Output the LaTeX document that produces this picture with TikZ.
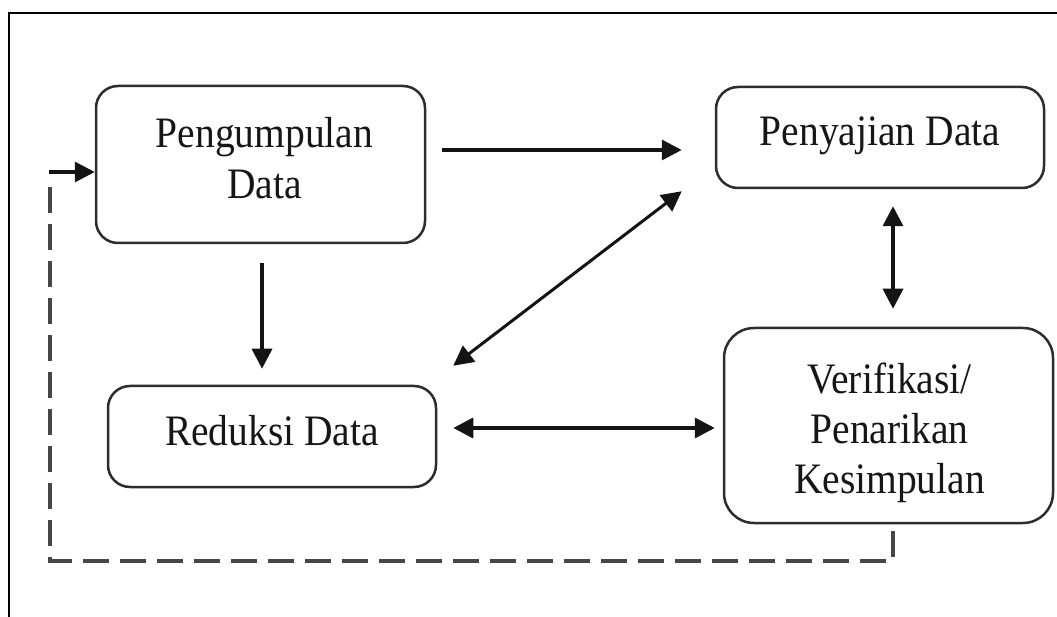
\documentclass[tikz,border=0pt]{standalone}
\usepackage{fontspec}
\setmainfont{Liberation Serif}
\usetikzlibrary{arrows.meta,calc}
\definecolor{boxgray}{RGB}{45,45,45}
\definecolor{linegray}{RGB}{20,20,20}
\definecolor{dashgray}{RGB}{70,70,70}
\definecolor{txt}{RGB}{25,20,25}
\newcommand{\boxtext}[1]{\scalebox{1}[1.1]{\begin{tabular}{@{}c@{}}#1\end{tabular}}}
\begin{document}
\begin{tikzpicture}[x=1pt,y=1pt,
  box/.style={draw=boxgray, line width=2.5pt, rounded corners=22pt, fill=white, inner sep=0pt},
  lbl/.style={font=\fontsize{39.5}{45.5}\selectfont, text=txt, inner sep=0pt},
  arr/.style={line width=3.5pt, draw=linegray, -{Triangle[length=20pt,width=20pt]}},
  darr/.style={line width=3.5pt, draw=linegray, {Triangle[length=20pt,width=20pt]}-{Triangle[length=20pt,width=20pt]}},
  dashln/.style={line width=3.5pt, draw=dashgray, dash pattern=on 26pt off 11pt},
]
\useasboundingbox (0,0) rectangle (1057,616);
% outer frame
\draw[line width=2.5pt, black] (1057,603) -- (9,603) -- (9,-2);

% boxes
\node[box, minimum width=329pt, minimum height=157pt] (P) at (260.5,451.5) {};
\node[box, minimum width=328pt, minimum height=101pt] (S) at (880,478.5) {};
\node[box, minimum width=328pt, minimum height=101pt] (R) at (272,179.5) {};
\node[box, minimum width=329pt, minimum height=195pt, rounded corners=30pt] (V) at (888.5,190.5) {};

% texts
\node[lbl] (Pt) at ($(P.center)+(4,1.5)$) {\boxtext{Pengumpulan\\Data}};
\node[lbl] (St) at ($(S.center)+(0,2.5)$) {\boxtext{Penyajian Data}};
\node[lbl] (Rt) at ($(R.center)+(0,1.5)$) {\boxtext{Reduksi Data}};
\node[lbl] (Vt) at ($(V.center)+(1,-8)$) {\boxtext{Verifikasi/\\Penarikan\\Kesimpulan}};

% connectors
\draw[arr] ($(P.east)+(16,14.5)$) -- ($(S.west)+(-33,-12.5)$);
\draw[darr, line width=3pt] ($(R.north east)+(16,19)$) -- ($(S.south west)+(-33,-2)$);
\coordinate (a) at ($(P.south)+(1.5,-19)$);
\draw[arr] (a) -- ($(a |- R.north)+(0,16)$);
\coordinate (b) at ($(S.south)+(13,-17)$);
\draw[darr] (b) -- ($(b |- V.north)+(0,18)$);
\coordinate (c) at ($(R.east)+(16,8.5)$);
\draw[darr] (c) -- ($(c -| V.west)+(-8,0)$);

% feedback loop
\coordinate (d) at ($(V.south)+(4.5,-7)$);
\coordinate (lc) at (50,55);
\coordinate (e) at ($(P.west)+(0,-7.5)$);
\draw[dashln] (d) -- (d |- lc) -- (lc) -- ($(lc |- e)+(0,-12)$);
\draw[arr] ($(lc |- e)+(-1.5,0)$) -- (e);
\end{tikzpicture}
\end{document}
